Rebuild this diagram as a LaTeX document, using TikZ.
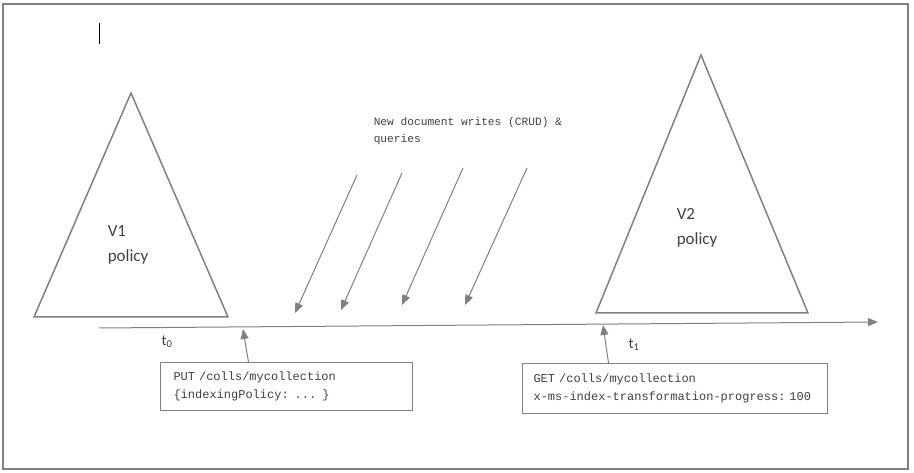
\documentclass[tikz,border=0pt]{standalone}
\usepackage{fontspec}
\setmainfont{Carlito}
\setmonofont{Liberation Mono}
\usetikzlibrary{arrows.meta}
\definecolor{linegray}{HTML}{808080}
\definecolor{textgray}{HTML}{404040}
\newcommand\monosize[2]{\ttfamily\fontsize{#1}{#2}\selectfont\fontdimen2\font=0.6em\fontdimen3\font=0pt\fontdimen4\font=0pt}
\tikzset{arr/.style={linegray,line width=1pt,-{Triangle[length=10pt,width=8pt]}},
  cmdbox/.style={draw=linegray,line width=1pt,anchor=north west,align=left,font=\monosize{12}{18},text=textgray},
  lbl/.style={text=textgray,font=\fontsize{17}{25}\selectfont,align=left,inner sep=0pt,anchor=north west},
  tlbl/.style={text=textgray,font=\fontsize{15}{18}\selectfont}}

\begin{document}
\begin{tikzpicture}[x=1pt,y=-1pt,line width=1.5pt]
  \useasboundingbox (0,0) rectangle (914,473);
  \draw[linegray,line width=2pt] (3,4) rectangle (908,469);
  \draw[black,line width=1pt] (99,23) -- (99,44);
  % policy triangles
  \draw[linegray] (131,93) -- (228,317) -- (34,317) -- cycle;
  \draw[linegray] (701,55) -- (808,313) -- (596,313) -- cycle;
  \node[lbl] (v1) at (107,225) {V1\\policy};
  \node[lbl] (v2) at (676,208) {V2\\policy};
  % time line
  \coordinate (tstart) at (99,328); \coordinate (tend) at (878,322);
  \draw[arr] (tstart) -- (tend);
  \node[tlbl] (t0) at (167,342) {t\textsubscript{0}};
  \node[tlbl] (t1) at (634,345) {t\textsubscript{1}};
  % writes and queries
  \node[lbl,font=\monosize{11.2}{17}] (crud) at (373,117) {New document writes (CRUD) \&\\queries};
  \foreach \sx/\sy/\ex/\ey in {357/175/295/313,402/173/341/310,463/168/402/305,527/168/465/305}
    \draw[arr] (\sx,\sy) -- (\ex,\ey);
  % requests
  \node[cmdbox,text width=226pt,minimum height=48pt,inner xsep=13pt] (put) at (160,362)
    {PUT /colls/mycollection\\\{indexingPolicy: ... \}};
  \node[cmdbox,text width=283pt,minimum height=50pt,inner xsep=11pt] (get) at (522,363)
    {GET /colls/mycollection\\x-ms-index-transformation-progress:~100};
  \draw[arr] ([xshift=-38pt]put.north) -- (243,329);
  \draw[arr] ([xshift=-66.5pt]get.north) -- (603,325);
\end{tikzpicture}
\end{document}
